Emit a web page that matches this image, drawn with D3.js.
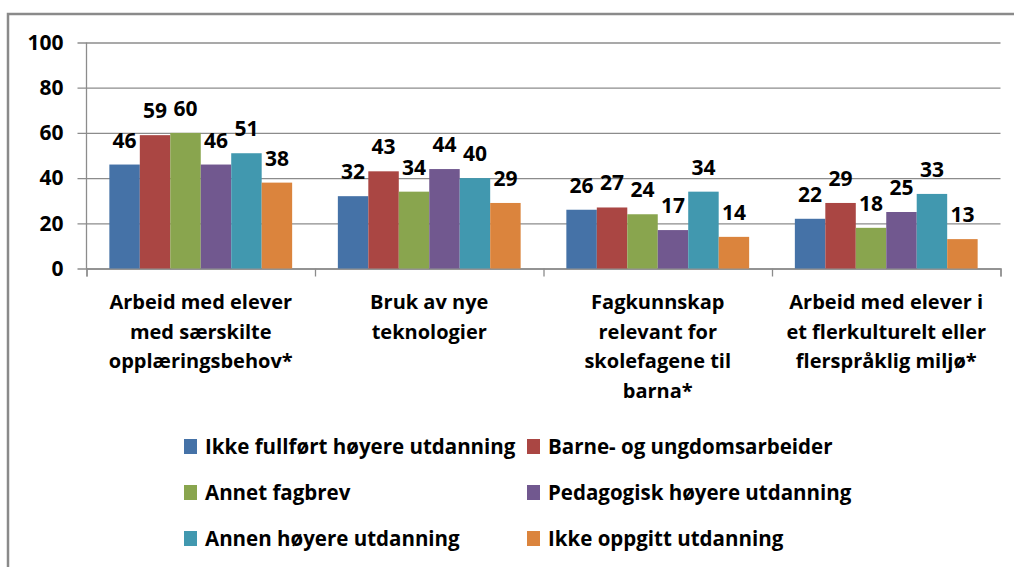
<!DOCTYPE html>
<html>
<head>
<meta charset="utf-8">
<script src="https://cdn.jsdelivr.net/npm/d3@7"></script>
<style>
  html, body { margin: 0; padding: 0; background: #fff; }
  svg { display: block; }
  text { font-family: "Open Sans", Lato, sans-serif; font-weight: 700; fill: #000; }
</style>
</head>
<body>
<svg id="chart" width="1014" height="567"></svg>
<script>
// Categories (wrapped label lines) and series
const categories = [
  "Arbeid med elever med særskilte opplæringsbehov*",
  "Bruk av nye teknologier",
  "Fagkunnskap relevant for skolefagene til barna*",
  "Arbeid med elever i et flerkulturelt eller flerspråklig miljø*"
];
const categoryLines = [
  ["Arbeid med elever", "med særskilte", "opplæringsbehov*"],
  ["Bruk av nye", "teknologier"],
  ["Fagkunnskap", "relevant for", "skolefagene til", "barna*"],
  ["Arbeid med elever i", "et flerkulturelt eller", "flerspråklig miljø*"]
];
const seriesNames = [
  "Ikke fullført høyere utdanning",
  "Barne- og ungdomsarbeider",
  "Annet fagbrev",
  "Pedagogisk høyere utdanning",
  "Annen høyere utdanning",
  "Ikke oppgitt utdanning"
];
const ikkeFullfort   = [46, 32, 26, 22];
const barneUngdom    = [59, 43, 27, 29];
const annetFagbrev   = [60, 34, 24, 18];
const pedagogisk     = [46, 44, 17, 25];
const annenHoyere    = [51, 40, 34, 33];
const ikkeOppgitt    = [38, 29, 14, 13];
const seriesValues = [ikkeFullfort, barneUngdom, annetFagbrev, pedagogisk, annenHoyere, ikkeOppgitt];
const colors = ["#4572A7", "#AA4643", "#89A54E", "#71588F", "#4198AF", "#DB843D"];
const yTicks = [0, 20, 40, 60, 80, 100];

const svg = d3.select("#chart");

// outer frame (continues past the right and bottom edges)
svg.append("rect")
  .attr("x", 8).attr("y", 14)
  .attr("width", 1100).attr("height", 700)
  .attr("fill", "#fff")
  .attr("stroke", "#8a8a8a").attr("stroke-width", 2.5);

const plot = { left: 86.5, right: 1000.5, top: 42.5, bottom: 268.5 };

const x0 = d3.scaleBand()
  .domain(categories)
  .range([plot.left, plot.right])
  .paddingInner(0.2)
  .paddingOuter(0.1);
const x1 = d3.scaleBand()
  .domain(d3.range(seriesNames.length))
  .range([0, x0.bandwidth()]);
const y = d3.scaleLinear().domain([0, 100]).range([plot.bottom, plot.top]);

// horizontal gridlines
const gy = svg.append("g")
  .attr("transform", `translate(${plot.right},0)`)
  .call(d3.axisLeft(y).tickValues(yTicks)
    .tickSize(plot.right - plot.left + 9).tickFormat(""));
gy.select(".domain").remove();
gy.selectAll(".tick line").attr("stroke", "#8c8c8c").attr("stroke-width", 1.3);

// y tick labels
const gLabels = svg.append("g")
  .attr("transform", `translate(${plot.left},0)`)
  .call(d3.axisLeft(y).tickValues(yTicks).tickSize(0).tickPadding(23));
gLabels.select(".domain").remove();
gLabels.selectAll(".tick text")
  .attr("font-size", 21)
  .attr("font-family", "'Open Sans', sans-serif")
  .attr("font-weight", 700)
  .attr("fill", "#000");

// value axis line
svg.append("line")
  .attr("x1", plot.left).attr("x2", plot.left)
  .attr("y1", plot.top).attr("y2", plot.bottom)
  .attr("stroke", "#8c8c8c").attr("stroke-width", 1.3);

// category axis with ticks between groups
const xb = d3.scaleLinear().domain([0, categories.length]).range([plot.left, plot.right]);
const gx = svg.append("g")
  .attr("transform", `translate(0,${plot.bottom})`)
  .call(d3.axisBottom(xb).tickValues(d3.range(categories.length + 1)).tickSize(8).tickFormat(""));
gx.select(".domain").attr("stroke", "#8c8c8c").attr("stroke-width", 1.3);
gx.selectAll(".tick line").attr("stroke", "#8c8c8c").attr("stroke-width", 1.3);

// bars with value labels
const groups = svg.append("g").selectAll("g")
  .data(categories)
  .join("g")
  .attr("transform", c => `translate(${x0(c)},0)`);

groups.each(function(c, ci) {
  const g = d3.select(this);
  seriesValues.forEach((vals, si) => {
    const v = vals[ci];
    g.append("rect")
      .attr("x", x1(si))
      .attr("y", y(v))
      .attr("width", x1.bandwidth())
      .attr("height", y(0) - y(v))
      .attr("fill", colors[si]);
    g.append("text")
      .attr("x", x1(si) + x1.bandwidth() / 2)
      .attr("y", y(v) - 17)
      .attr("text-anchor", "middle")
      .attr("font-size", 21)
      .text(v);
  });
});

// category labels
categories.forEach((c, ci) => {
  const t = svg.append("text")
    .attr("text-anchor", "middle")
    .attr("font-size", 20);
  categoryLines[ci].forEach((line, li) => {
    t.append("tspan")
      .attr("x", x0(c) + x0.bandwidth() / 2)
      .attr("y", 309 + li * 29.5)
      .text(line);
  });
});

// legend: two columns, three rows
const legend = svg.append("g");
seriesNames.forEach((name, i) => {
  const col = i % 2, row = Math.floor(i / 2);
  const lx = col === 0 ? 184 : 527;
  const ly = 454 + row * 46;
  legend.append("rect")
    .attr("x", lx).attr("y", ly - 15)
    .attr("width", 13).attr("height", 15)
    .attr("fill", colors[i]);
  legend.append("text")
    .attr("x", lx + 21).attr("y", ly)
    .attr("font-size", 20.5)
    .text(name);
});
</script>
</body>
</html>
